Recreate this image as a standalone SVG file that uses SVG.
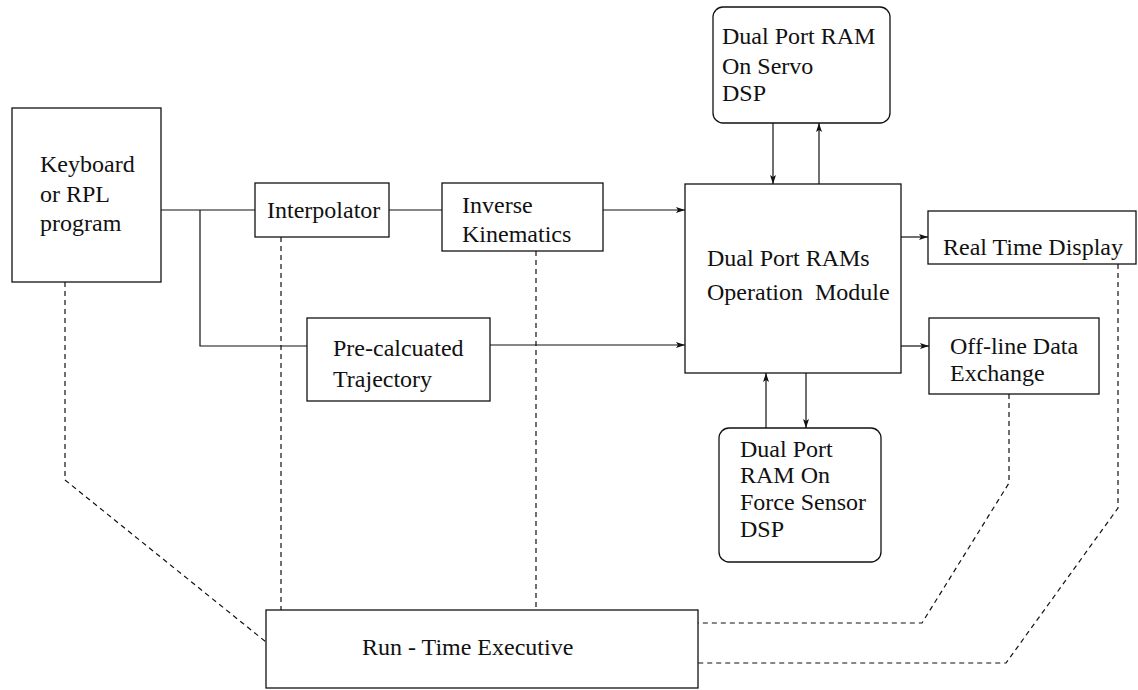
<svg xmlns="http://www.w3.org/2000/svg" width="1138" height="690" viewBox="0 0 1138 690">
<style>
.box{fill:#fff;stroke:#111;stroke-width:1.3}
.t{font-family:"Liberation Serif","Times New Roman",Tinos,"Noto Serif","DejaVu Serif",serif;font-size:24px;fill:#111}
.ln{fill:none;stroke:#111;stroke-width:1.2}
.ds{fill:none;stroke:#111;stroke-width:1.2;stroke-dasharray:5 4}
</style>
<defs>
<marker id="ah" markerUnits="userSpaceOnUse" markerWidth="10" markerHeight="8" refX="9" refY="4" orient="auto">
<path d="M0,1 L9,4 L0,7 L2,4 Z" fill="#111"/>
</marker>
</defs>
<rect width="1138" height="690" fill="#fff"/>
<g id="connectors">
<path class="ln" d="M161,210 H255"/>
<path class="ln" d="M200,210 V346 H307"/>
<path class="ln" d="M389,210 H442"/>
<path class="ln" d="M603,210 H685" marker-end="url(#ah)"/>
<path class="ln" d="M490,345 H685" marker-end="url(#ah)"/>
<path class="ln" d="M773,123 V184" marker-end="url(#ah)"/>
<path class="ln" d="M819,184 V123" marker-end="url(#ah)"/>
<path class="ln" d="M766,428 V373" marker-end="url(#ah)"/>
<path class="ln" d="M806,373 V428" marker-end="url(#ah)"/>
<path class="ln" d="M901,237 H928" marker-end="url(#ah)"/>
<path class="ln" d="M901,346 H929" marker-end="url(#ah)"/>
<path class="ds" d="M65,282 V480 L266,642"/>
<path class="ds" d="M281,237 V610"/>
<path class="ds" d="M536,251 V610"/>
<path class="ds" d="M1009,394 V483 L922,623 H698"/>
<path class="ds" d="M1118,264 V508 L1006,663 H698"/>
</g>
<g id="keyboard">
<rect class="box" x="12" y="108" width="149" height="174"/>
<text class="t" font-family="Liberation Serif, serif" x="40" y="172">Keyboard</text>
<text class="t" font-family="Liberation Serif, serif" x="40" y="202">or RPL</text>
<text class="t" font-family="Liberation Serif, serif" x="40" y="231">program</text>
</g>
<g id="interpolator">
<rect class="box" x="255" y="183" width="134" height="54"/>
<text class="t" font-family="Liberation Serif, serif" x="267" y="218">Interpolator</text>
</g>
<g id="inverse">
<rect class="box" x="442" y="183" width="161" height="68"/>
<text class="t" font-family="Liberation Serif, serif" x="462" y="213">Inverse</text>
<text class="t" font-family="Liberation Serif, serif" x="462" y="242">Kinematics</text>
</g>
<g id="precalc">
<rect class="box" x="307" y="318" width="183" height="83"/>
<text class="t" font-family="Liberation Serif, serif" x="333" y="356">Pre-calcuated</text>
<text class="t" font-family="Liberation Serif, serif" x="333" y="387">Trajectory</text>
</g>
<g id="dpr">
<rect class="box" x="685" y="184" width="216" height="189"/>
<text class="t" font-family="Liberation Serif, serif" x="707" y="266">Dual Port RAMs</text>
<text class="t" font-family="Liberation Serif, serif" x="707" y="300" xml:space="preserve">Operation  Module</text>
</g>
<g id="servo">
<rect class="box" x="713" y="7" width="177" height="116" rx="10"/>
<text class="t" font-family="Liberation Serif, serif" x="722" y="44">Dual Port RAM</text>
<text class="t" font-family="Liberation Serif, serif" x="722" y="74">On Servo</text>
<text class="t" font-family="Liberation Serif, serif" x="722" y="101">DSP</text>
</g>
<g id="force">
<rect class="box" x="719" y="428" width="162" height="134" rx="10"/>
<text class="t" font-family="Liberation Serif, serif" x="740" y="457">Dual Port</text>
<text class="t" font-family="Liberation Serif, serif" x="740" y="483">RAM On</text>
<text class="t" font-family="Liberation Serif, serif" x="740" y="510">Force Sensor</text>
<text class="t" font-family="Liberation Serif, serif" x="740" y="537">DSP</text>
</g>
<g id="rtd">
<rect class="box" x="928" y="211" width="208" height="53"/>
<text class="t" font-family="Liberation Serif, serif" x="943" y="255">Real Time Display</text>
</g>
<g id="offline">
<rect class="box" x="929" y="318" width="170" height="76"/>
<text class="t" font-family="Liberation Serif, serif" x="950" y="354">Off-line Data</text>
<text class="t" font-family="Liberation Serif, serif" x="950" y="381">Exchange</text>
</g>
<g id="rte">
<rect class="box" x="266" y="610" width="432" height="78"/>
<text class="t" font-family="Liberation Serif, serif" x="362" y="655">Run - Time Executive</text>
</g>
</svg>
